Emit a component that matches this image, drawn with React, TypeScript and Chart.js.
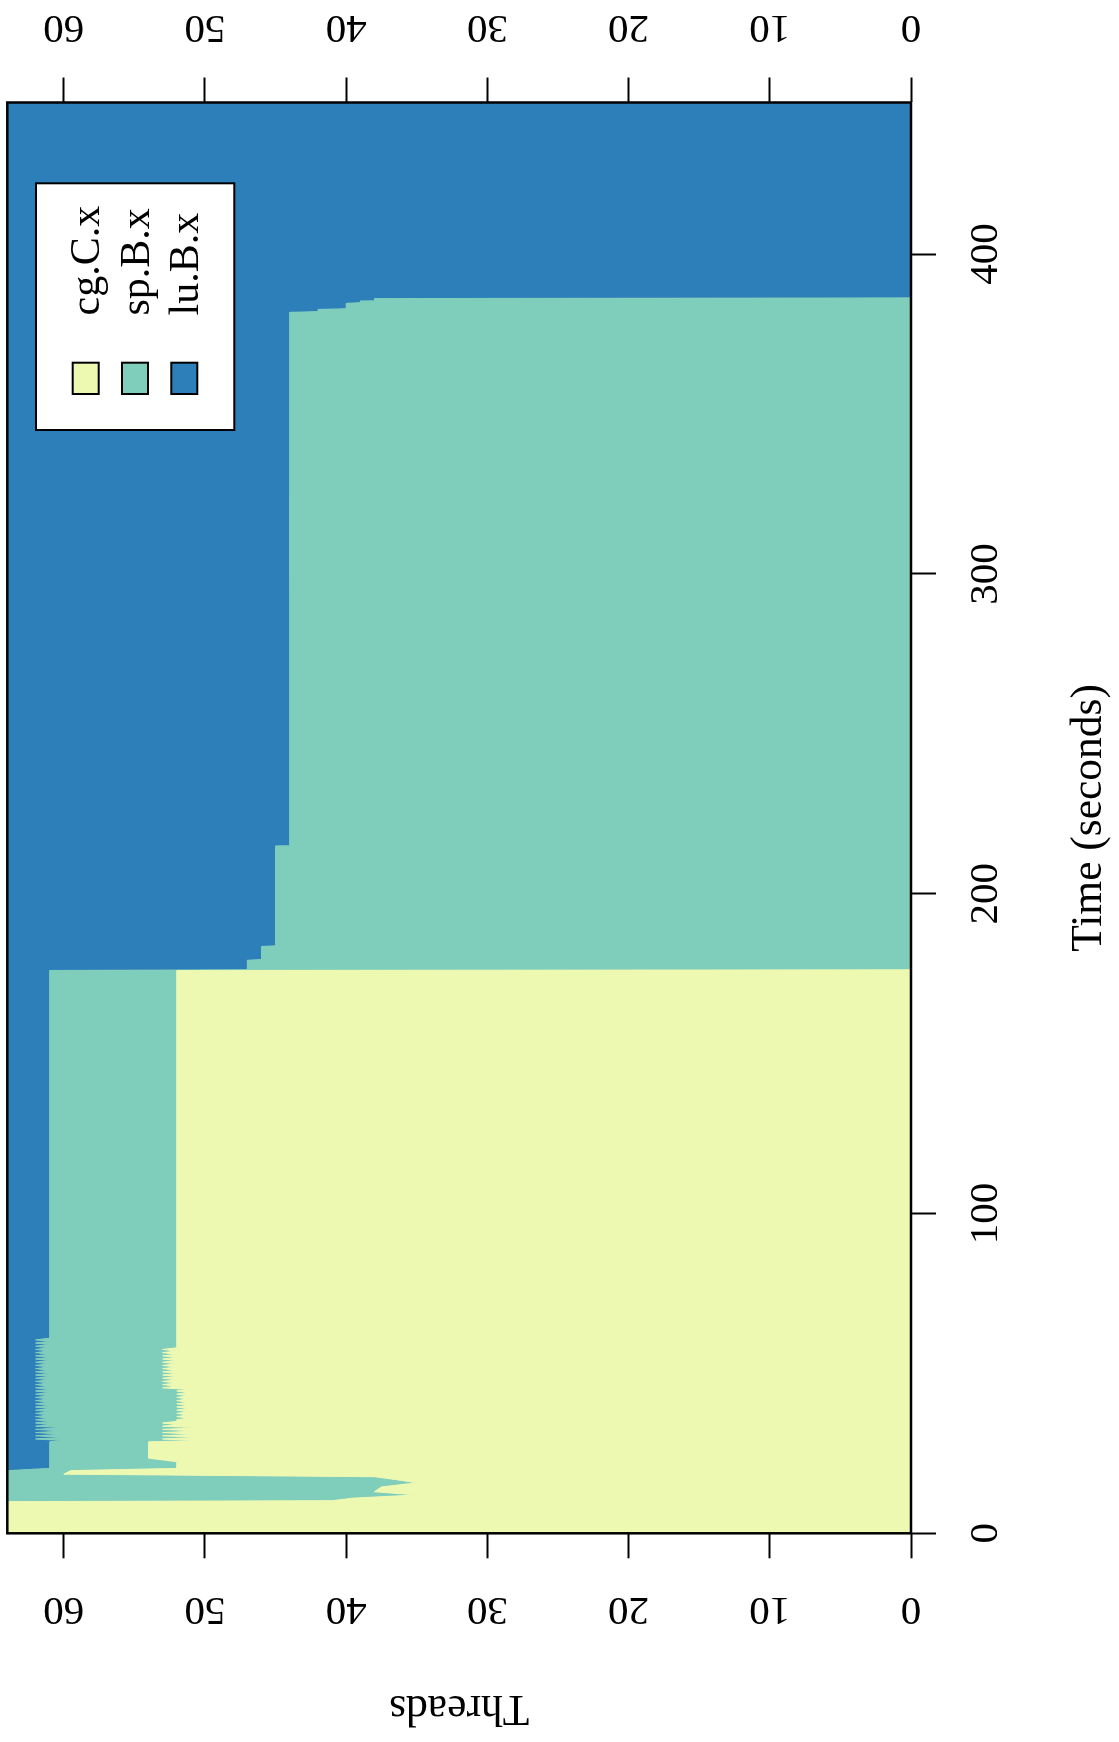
import React, { useEffect, useRef } from "react";
import { Chart, registerables } from "chart.js";

Chart.register(...registerables);

// ---- data (original, unrotated orientation: x = time, y = threads) ----
const seriesNames = ["cg.C.x", "sp.B.x", "lu.B.x"];
const seriesColors = ["#EDF8B1", "#7FCDBB", "#2C7FB8"];
const timeTicks = [0, 100, 200, 300, 400];
const threadTicks = [0, 10, 20, 30, 40, 50, 60];
const timeMax = 447.4;
const threadMax = 64;

const timeSec = [
  0, 9.9, 10.2, 11, 12, 13, 14.5, 15.8, 16.8, 17.7, 18.5, 19.6, 20.3, 22.4, 23.5, 28.6,
  29, 29.5, 30, 30.5, 31, 31.5, 32, 32.5, 33,
  33.5, 34, 34.5, 35,
  35.5, 36, 36.5, 37, 37.5, 38, 38.5, 39, 39.5, 40, 40.5, 41, 41.5, 42, 42.5, 43, 43.5, 44, 44.5, 45,
  45.5, 46, 46.5, 47, 47.5, 48, 48.5, 49, 49.5, 50, 50.5, 51, 51.5, 52, 52.5, 53, 53.5, 54, 54.5, 55, 55.5, 56, 56.5, 57, 57.5,
  58, 58.5, 59, 59.5, 60, 60.5,
  61, 176, 176.2, 179.2, 179.4, 183.5, 183.7, 214.7, 214.9, 381.8, 382, 382.7, 382.9, 384.6, 384.8, 385.1, 385.3, 386.1, 386.3, 447.4,
];

const cgC = [
  64, 64, 41, 39.5, 35, 38, 37.5, 35, 36.5, 38, 60, 59.5, 52, 52, 54, 54,
  50.5, 53, 50.5, 53, 50.5, 53, 50.5, 53, 50.5,
  53, 52, 53, 52,
  52, 51.2, 52, 51.2, 52, 51.2, 52, 51.2, 52, 51.2, 52, 51.2, 52, 51.2, 52, 51.2, 52, 51.2, 52, 51.2,
  53, 52, 53, 52, 53, 52, 53, 52, 53, 52, 53, 52, 53, 52, 53, 52, 53, 52, 53, 52, 53, 52, 53, 52, 53,
  52, 52, 52, 52, 52, 52,
  52, 52, 0, 0, 0, 0, 0, 0, 0, 0, 0, 0, 0, 0, 0, 0, 0, 0, 0, 0,
];

const spB = [
  0, 0, 23, 24.5, 29, 26, 26.5, 29, 27.5, 26, 4, 4.5, 9, 9, 7, 7,
  9.5, 9, 9.5, 9, 9.5, 9, 9.5, 9, 9.5,
  9, 9, 9, 9,
  10, 9.8, 10, 9.8, 10, 9.8, 10, 9.8, 10, 9.8, 10, 9.8, 10, 9.8, 10, 9.8, 10, 9.8, 10, 9.8,
  9, 9, 9, 9, 9, 9, 9, 9, 9, 9, 9, 9, 9, 9, 9, 9, 9, 9, 9, 9, 9, 9, 9, 9, 9,
  9, 10, 9, 10, 9, 10,
  9, 9, 47, 47, 46, 46, 45, 45, 44, 44, 42, 42, 40, 40, 39, 39, 38, 38, 0, 0,
];

const luB = [
  0, 0, 0, 0, 0, 0, 0, 0, 0, 0, 0, 0, 3, 3, 3, 3,
  4, 2, 4, 2, 4, 2, 4, 2, 4,
  2, 3, 2, 3,
  2, 3, 2, 3, 2, 3, 2, 3, 2, 3, 2, 3, 2, 3, 2, 3, 2, 3, 2, 3,
  2, 3, 2, 3, 2, 3, 2, 3, 2, 3, 2, 3, 2, 3, 2, 3, 2, 3, 2, 3, 2, 3, 2, 3, 2,
  3, 2, 3, 2, 3, 2,
  3, 3, 17, 17, 18, 18, 19, 19, 20, 20, 22, 22, 24, 24, 25, 25, 26, 26, 64, 64,
];

// ---- canvas geometry (drawn unrotated, then turned 90deg CCW) ----
const CW = 1742;
const CH = 1119;
const FONT_FAMILY = "'Liberation Serif', 'Times New Roman', serif";

const framePlugin = {
  id: "frame",
  afterDatasetsDraw(chart: any) {
    const { ctx, chartArea: a } = chart;
    ctx.save();
    ctx.strokeStyle = "#000";
    ctx.lineWidth = 2.5;
    ctx.strokeRect(a.left, a.top, a.right - a.left, a.bottom - a.top);
    ctx.restore();
  },
};

const boxLegendPlugin = {
  id: "boxLegend",
  afterDraw(chart: any) {
    const { ctx, chartArea: a } = chart;
    const boxW = 246.7;
    const boxH = 198.3;
    const right = a.right - 80.8;
    const left = right - boxW;
    const top = a.top + 28.7;
    ctx.save();
    ctx.fillStyle = "#fff";
    ctx.fillRect(left, top, boxW, boxH);
    ctx.strokeStyle = "#000";
    ctx.lineWidth = 2;
    ctx.strokeRect(left, top, boxW, boxH);
    ctx.font = `42px ${FONT_FAMILY}`;
    ctx.textAlign = "left";
    ctx.textBaseline = "alphabetic";
    chart.data.datasets.forEach((ds: any, i: number) => {
      const rowTop = top + 36.7 + i * 49.3;
      ctx.fillStyle = ds.backgroundColor;
      ctx.fillRect(left + 36, rowTop, 31.3, 26);
      ctx.strokeStyle = "#000";
      ctx.lineWidth = 2;
      ctx.strokeRect(left + 36, rowTop, 31.3, 26);
      ctx.fillStyle = "#000";
      ctx.fillText(ds.label, left + 114.5, rowTop + 13 + 13.5);
    });
    ctx.restore();
  },
};

export default function App() {
  const ref = useRef<HTMLCanvasElement | null>(null);

  useEffect(() => {
    const canvas = ref.current;
    if (!canvas) return;
    const font = { family: FONT_FAMILY, size: 41, weight: "normal" as const };
    const titleFont = { family: FONT_FAMILY, size: 43.5, weight: "normal" as const };
    const tickGrid = {
      display: true,
      drawOnChartArea: false,
      drawTicks: true,
      tickLength: 25,
      tickWidth: 2,
      tickColor: "#000",
    };
    const noPad = (s: any) => {
      s.paddingLeft = 0;
      s.paddingRight = 0;
      s.paddingTop = 0;
      s.paddingBottom = 0;
    };
    const seriesValues = [cgC, spB, luB];
    const chart = new Chart(canvas, {
      type: "line",
      data: {
        datasets: seriesValues.map((vals, i) => ({
          label: seriesNames[i],
          data: timeSec.map((t, k) => ({ x: t, y: vals[k] })),
          backgroundColor: seriesColors[i],
          borderColor: seriesColors[i],
          borderWidth: 1,
          pointRadius: 0,
          tension: 0,
          fill: i === 0 ? "origin" : "-1",
        })),
      },
      options: {
        responsive: false,
        maintainAspectRatio: false,
        animation: false,
        devicePixelRatio: 1,
        events: [],
        layout: { padding: { top: 7.3, left: 0, right: 0, bottom: 0 } },
        plugins: {
          legend: { display: false },
          tooltip: { enabled: false },
        },
        scales: {
          x: {
            type: "linear",
            position: "bottom",
            min: 0,
            max: timeMax,
            afterBuildTicks: (s: any) => {
              s.ticks = timeTicks.map((v) => ({ value: v }));
            },
            afterFit: (s: any) => {
              s.height = 208;
              noPad(s);
            },
            grid: tickGrid,
            border: { display: false },
            ticks: { font, color: "#000", padding: 26, minRotation: 0, maxRotation: 0, autoSkip: false },
            title: {
              display: true,
              text: "Time (seconds)",
              font: titleFont,
              color: "#000",
              padding: { top: 0, bottom: 2.9 },
            },
          },
          y: {
            type: "linear",
            position: "left",
            stacked: true,
            min: 0,
            max: threadMax,
            afterBuildTicks: (s: any) => {
              s.ticks = threadTicks.map((v) => ({ value: v }));
            },
            afterFit: (s: any) => {
              s.width = 208.7;
              noPad(s);
            },
            grid: tickGrid,
            border: { display: false },
            ticks: {
              font,
              color: "#000",
              padding: 29.5,
              minRotation: 90,
              maxRotation: 90,
              crossAlign: "center",
              autoSkip: false,
            },
            title: {
              display: true,
              text: "Threads",
              font: titleFont,
              color: "#000",
              padding: { top: 8.9, bottom: 0 },
            },
          },
          y2: {
            type: "linear",
            position: "right",
            min: 0,
            max: threadMax,
            afterBuildTicks: (s: any) => {
              s.ticks = threadTicks.map((v) => ({ value: v }));
            },
            afterFit: (s: any) => {
              s.width = CW - 1639.5;
              noPad(s);
            },
            grid: tickGrid,
            border: { display: false },
            ticks: {
              font,
              color: "#000",
              padding: 30,
              minRotation: 90,
              maxRotation: 90,
              crossAlign: "center",
              autoSkip: false,
            },
          },
        },
      } as any,
      plugins: [framePlugin, boxLegendPlugin],
    });
    return () => chart.destroy();
  }, []);

  return (
    <div
      style={{
        position: "absolute",
        left: 0,
        top: 0,
        width: CH,
        height: CW,
        overflow: "hidden",
        background: "#fff",
      }}
    >
      <div
        style={{
          position: "absolute",
          left: 0,
          top: 0,
          width: CW,
          height: CH,
          transformOrigin: "0 0",
          transform: `translate(0px, ${CW}px) rotate(-90deg)`,
        }}
      >
        <canvas
          ref={ref}
          width={CW}
          height={CH}
          style={{ display: "block", width: CW, height: CH }}
        />
      </div>
    </div>
  );
}
